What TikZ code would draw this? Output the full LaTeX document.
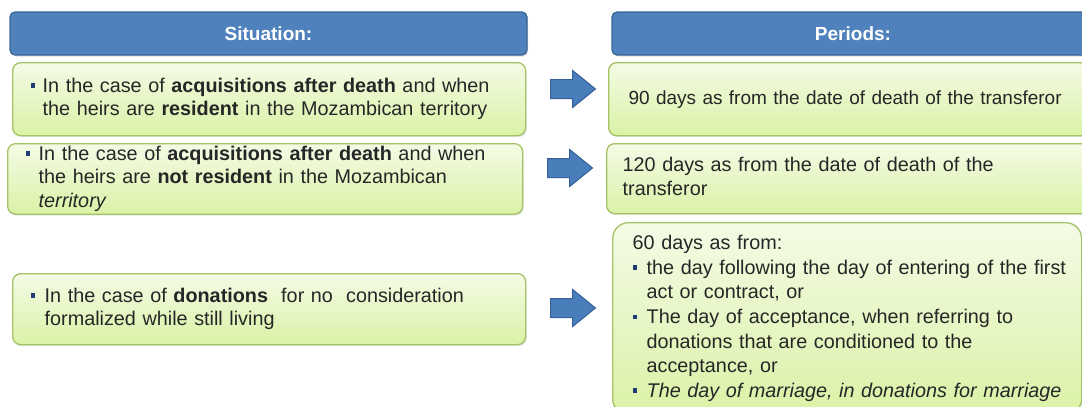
\documentclass[tikz,border=0pt]{standalone}
\usepackage{fontspec}
\setmainfont{Liberation Sans}
\usetikzlibrary{shapes.arrows,shadows}

\definecolor{hdrblue}{HTML}{4F81BD}
\definecolor{hdredge}{HTML}{3A6595}
\definecolor{boxtop}{HTML}{F4FBE6}
\definecolor{boxbot}{HTML}{DAF2A6}
\definecolor{boxedge}{HTML}{A4C266}
\definecolor{arrblue}{HTML}{4A7EBB}
\definecolor{arredge}{HTML}{35609A}
\definecolor{bulblue}{HTML}{1F3C78}
\definecolor{txtgray}{HTML}{262626}

% small square bullet with a fixed-width cell
\newcommand\bul[1][12pt]{\makebox[#1][l]{\textcolor{bulblue}{\rule[4.5pt]{4.5pt}{4.5pt}}}}

\tikzset{
  hdr/.style={rectangle, rounded corners=5pt, fill=hdrblue, draw=hdredge,
    line width=1.2pt, text=white, minimum height=43pt, inner sep=0pt,
    font=\bfseries\fontsize{19}{22}\selectfont,
    drop shadow={shadow xshift=1pt, shadow yshift=-1.5pt, opacity=0.25}},
  gbox/.style={rectangle, rounded corners=8pt, top color=boxtop,
    bottom color=boxbot, draw=boxedge, line width=1.3pt, text=txtgray,
    align=left, inner ysep=0pt, anchor=north west,
    font=\fontsize{19.8}{23.5}\selectfont,
    drop shadow={shadow xshift=1pt, shadow yshift=-1.5pt, opacity=0.2}},
  blockarrow/.style={single arrow, single arrow head extend=9pt,
    single arrow tip angle=78, fill=arrblue, draw=arredge, line width=1pt,
    minimum height=45pt, inner xsep=0pt, inner ysep=9pt,
    text height=0pt, text depth=0pt, anchor=tail}
}

\begin{document}
\begin{tikzpicture}[x=1pt, y=-1pt]
\useasboundingbox (0,0) rectangle (1082,407);

% column headers
\node[hdr, minimum width=517pt] (hs) at (268.5,33.5) {Situation:};
\node[hdr, minimum width=482pt] (hp) at (853,33.5) {Periods:};

% situations
\node[gbox, inner xsep=18pt, text width=477pt, minimum height=73pt] (s1) at (12,62)
  {\begin{tabular}{@{}l@{}l@{}}
   \bul & In the case of \textbf{acquisitions after death} and when\\
        & the heirs are \textbf{resident} in the Mozambican territory
   \end{tabular}};
\node[gbox, inner xsep=18pt, text width=479pt, minimum height=70pt] (s2) at (7,143)
  {\begin{tabular}{@{}l@{}l@{}}
   \bul[13pt] & In the case of \textbf{acquisitions after death} and when\\
        & the heirs are \textbf{not resident} in the Mozambican\\
        & \textit{territory}
   \end{tabular}};
\node[gbox, inner xsep=18pt, text width=477pt, minimum height=71pt] (s3) at (12,273)
  {\begin{tabular}{@{}l@{}l@{}}
   \bul[14pt] & In the case of \textbf{donations}\ \ for no\ \ consideration\\
        & formalized while still living
   \end{tabular}};

% periods
\node[gbox, inner xsep=20pt, text width=440pt, minimum height=73pt,
      font=\fontsize{19}{23.5}\selectfont] (p1) at (608,62)
  {90 days as from the date of death of the transferor};
\node[gbox, inner xsep=16pt, text width=453pt, minimum height=70pt] (p2) at (606,143)
  {\begin{tabular}{@{}l@{}}
   120 days as from the date of death of the\\
   transferor
   \end{tabular}};
\node[gbox, rounded corners=16pt, inner xsep=20pt, text width=429pt,
      minimum height=192pt, font=\fontsize{19.8}{24.6}\selectfont] (p3) at (612,222)
  {\begin{tabular}{@{}l@{}l@{}}
   \multicolumn{2}{@{}l@{}}{60 days as from:}\\
   \bul[14pt] & the day following the day of entering of the first\\
        & act or contract, or\\
   \bul[14pt] & The day of acceptance, when referring to\\
        & donations that are conditioned to the\\
        & acceptance, or\\
   \bul[14pt] & \textit{The day of marriage, in donations for marriage}
   \end{tabular}};

% block arrows from each situation to its period
\node[blockarrow] (a1) at (550,89) {};
\node[blockarrow] (a2) at (547,168) {};
\node[blockarrow] (a3) at (550,308) {};
\end{tikzpicture}
\end{document}
